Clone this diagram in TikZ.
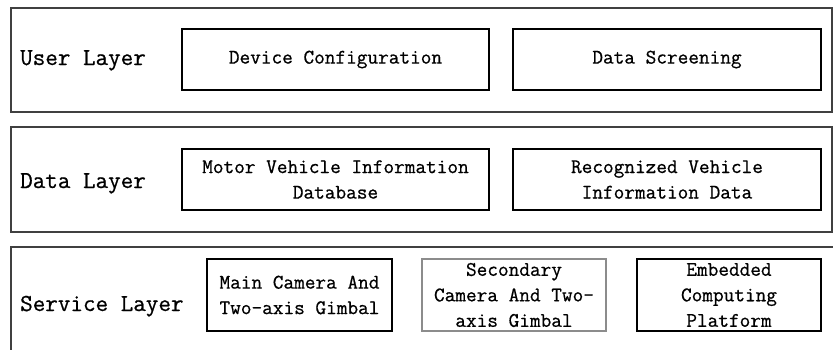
\documentclass[tikz,border=0pt]{standalone}
\usepackage{fontspec}
\newfontfamily\boxfont{Latin Modern Mono}[FakeBold=0.7]
\usepackage{tikz}

\begin{document}
\begin{tikzpicture}[x=1pt,y=-1pt,
    layerbox/.style={draw=black!75, line width=1.4pt, inner sep=0pt},
    layername/.style={anchor=base west, inner sep=0pt, font=\fontsize{24.4}{29}\selectfont\boxfont},
    itembox/.style={draw=black, line width=1.2pt, inner sep=0pt, align=center,
        font=\fontsize{20.7}{25.5}\selectfont\boxfont}]
    \path[use as bounding box, clip] (0,0) rectangle (833,349);
    \fill[white] (0,0) rectangle (833,349);
    \node[layerbox, minimum width=821, minimum height=104] (user) at (421.5,60) {};
    \node[layerbox, minimum width=821, minimum height=105] (data) at (421.5,179.5) {};
    \node[layerbox, minimum width=840, minimum height=120] (service) at (431,307) {};
    \node[layername] (userlbl) at (20,65) {User Layer};
    \node[layername] (datalbl) at (20,188) {Data Layer};
    \node[layername] (servicelbl) at (20,311) {Service Layer};
    \node[itembox, minimum width=307, minimum height=61] (devcfg) at (335.5,59.5) {Device Configuration};
    \node[itembox, minimum width=308, minimum height=61] (screen) at (667,59.5) {Data Screening};
    \node[itembox, minimum width=307, minimum height=61] (motordb) at (335.5,179.5) {Motor Vehicle Information\\Database};
    \node[itembox, minimum width=308, minimum height=61] (recog) at (667,179.5) {Recognized Vehicle\\Information Data};
    \node[itembox, minimum width=185, minimum height=72] (maincam) at (299.5,295) {Main Camera And\\Two-axis Gimbal};
    \node[itembox, draw=black!45, minimum width=184, minimum height=72] (seccam) at (514,295) {Secondary\\Camera And Two-\\axis Gimbal};
    \node[itembox, minimum width=184, minimum height=72] (embed) at (729,295) {Embedded\\Computing\\Platform};
\end{tikzpicture}
\end{document}
